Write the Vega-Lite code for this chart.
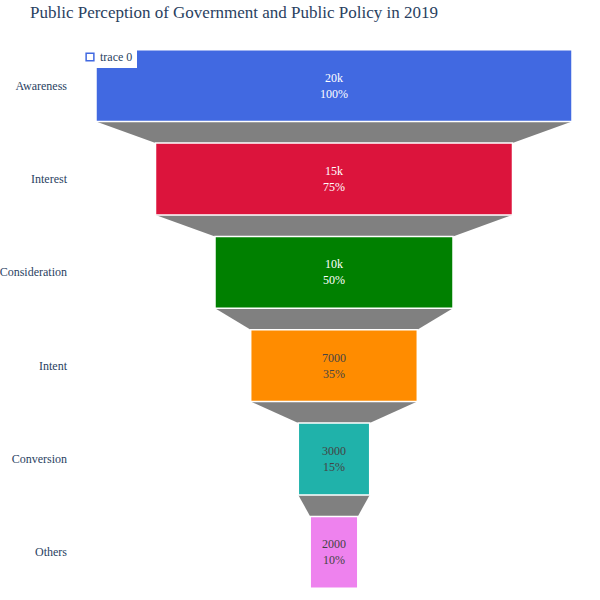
{
  "$schema": "https://vega.github.io/schema/vega-lite/v6.json",
  "autosize": "none",
  "width": 476,
  "height": 560,
  "padding": {"left": 96, "top": 39, "right": 28, "bottom": 1},
  "background": "white",
  "config": {"view": {"stroke": null}, "font": "Liberation Serif"},
  "title": {
    "text": "Public Perception of Government and Public Policy in 2019",
    "anchor": "start",
    "frame": "group",
    "dx": -66,
    "offset": 14,
    "fontSize": 17,
    "fontWeight": "normal",
    "color": "#2a3f5f",
    "font": "Liberation Serif"
  },
  "datasets": {
    "stages": [
      {"stage": "Awareness", "value": 20000, "row": 0},
      {"stage": "Interest", "value": 15000, "row": 1},
      {"stage": "Consideration", "value": 10000, "row": 2},
      {"stage": "Intent", "value": 7000, "row": 3},
      {"stage": "Conversion", "value": 3000, "row": 4},
      {"stage": "Others", "value": 2000, "row": 5}
    ],
    "connectors": [
      {"gap": 0, "y": 0.885, "value": 20000},
      {"gap": 0, "y": 1.115, "value": 15000},
      {"gap": 1, "y": 1.885, "value": 15000},
      {"gap": 1, "y": 2.115, "value": 10000},
      {"gap": 2, "y": 2.885, "value": 10000},
      {"gap": 2, "y": 3.115, "value": 7000},
      {"gap": 3, "y": 3.885, "value": 7000},
      {"gap": 3, "y": 4.115, "value": 3000},
      {"gap": 4, "y": 4.885, "value": 3000},
      {"gap": 4, "y": 5.115, "value": 2000}
    ],
    "legend": [{"trace": "trace 0"}]
  },
  "resolve": {"scale": {"color": "independent"}},
  "layer": [
    {
      "data": {"name": "connectors"},
      "transform": [
        {"calculate": "-datum.value/2", "as": "x0"},
        {"calculate": "datum.value/2", "as": "x1"}
      ],
      "mark": {"type": "area", "orient": "horizontal", "color": "#808080"},
      "encoding": {
        "y": {"field": "y", "type": "quantitative", "scale": {"domain": [0, 6], "reverse": true, "nice": false, "zero": false}, "axis": null},
        "x": {"field": "x0", "type": "quantitative", "scale": {"domain": [-10000, 10000], "nice": false}, "axis": null},
        "x2": {"field": "x1"},
        "detail": {"field": "gap"}
      }
    },
    {
      "data": {"name": "stages"},
      "transform": [
        {"calculate": "-datum.value/2", "as": "x0"},
        {"calculate": "datum.value/2", "as": "x1"},
        {"calculate": "datum.row+0.115", "as": "y0"},
        {"calculate": "datum.row+0.885", "as": "y1"},
        {"calculate": "datum.row+0.5", "as": "yc"},
        {"calculate": "[datum.value>=10000 ? (datum.value/1000)+'k' : ''+datum.value, round(datum.value/200)+'%']", "as": "lbl"}
      ],
      "layer": [
        {
          "mark": {"type": "rect", "stroke": "white", "strokeWidth": 1.5},
          "encoding": {
            "x": {"field": "x0", "type": "quantitative"},
            "x2": {"field": "x1"},
            "y": {"field": "y0", "type": "quantitative"},
            "y2": {"field": "y1"},
            "color": {
              "field": "stage",
              "type": "nominal",
              "scale": {
                "domain": ["Awareness", "Interest", "Consideration", "Intent", "Conversion", "Others"],
                "range": ["#4169E1", "#DC143C", "#008000", "#FF8C00", "#20B2AA", "#EE82EE"]
              },
              "legend": null
            }
          }
        },
        {
          "mark": {"type": "text", "fontSize": 12, "lineHeight": 16, "baseline": "middle", "dy": -8},
          "encoding": {
            "x": {"datum": 0, "type": "quantitative"},
            "y": {"field": "yc", "type": "quantitative"},
            "text": {"field": "lbl"},
            "color": {"condition": {"test": "datum.value>=10000", "value": "white"}, "value": "#444444"}
          }
        },
        {
          "mark": {"type": "text", "fontSize": 12, "align": "right", "dx": -29, "color": "#2a3f5f"},
          "encoding": {
            "x": {"datum": -10000, "type": "quantitative"},
            "y": {"field": "yc", "type": "quantitative"},
            "text": {"field": "stage"}
          }
        }
      ]
    },
    {
      "data": {"name": "legend"},
      "mark": {"type": "point", "opacity": 0},
      "encoding": {
        "x": {"datum": 0, "type": "quantitative"},
        "y": {"datum": 0, "type": "quantitative"},
        "color": {
          "field": "trace",
          "type": "nominal",
          "scale": {"range": ["#4169E1"]},
          "legend": {
            "title": null,
            "orient": "none",
            "legendX": -16,
            "legendY": 8,
            "symbolType": "square",
            "symbolOpacity": 1,
            "symbolFillColor": "#4169E1",
            "symbolStrokeColor": "#4169E1",
            "symbolSize": 60,
            "labelFontSize": 12,
            "labelColor": "#2a3f5f",
            "labelFont": "Liberation Serif",
            "fillColor": "white",
            "padding": 4
          }
        }
      }
    }
  ]
}
